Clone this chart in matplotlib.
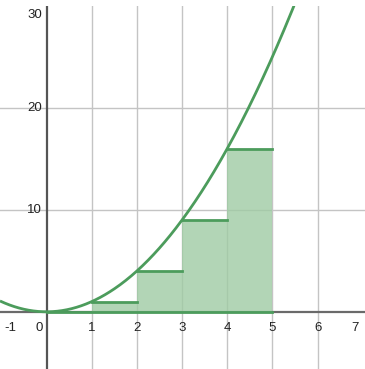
import numpy as np
import matplotlib
matplotlib.use("Agg")
import matplotlib.pyplot as plt

# data
rect_left = [1, 2, 3, 4]
rect_height = [1, 4, 9, 16]
rect_width = 1
x_ticks = [-1, 0, 1, 2, 3, 4, 5, 6, 7]
y_ticks = [10, 20, 30]

plt.rcParams['font.family'] = ['Liberation Sans', 'DejaVu Sans']

W, H = 365, 369
fig = plt.figure(figsize=(W / 100, H / 100), dpi=100)
top_margin = 6
ax = fig.add_axes([0, 0, 1, (H - top_margin) / H])
xmin, xmax = -1.03, 7.05
ymax = 29.98
ymin = ymax - (H - top_margin) / 10.2
ax.set_xlim(xmin, xmax)
ax.set_ylim(ymin, ymax)
for s in ax.spines.values():
    s.set_visible(False)
ax.set_xticks([])
ax.set_yticks([])

grid_c = '#c4c4c4'
for xv in x_ticks:
    if xv not in (0, -1, 7):
        ax.axvline(xv, color=grid_c, lw=1, zorder=1)
for yv in y_ticks:
    if yv < ymax:
        ax.axhline(yv, color=grid_c, lw=1, zorder=1)
ax.axhline(0, color='#6a6a6a', lw=1.6, zorder=2)
ax.axvline(0, color='#555555', lw=1.6, zorder=2)

green = '#4c9c5c'
fill = '#9fcba4'
ax.bar(rect_left, rect_height, width=rect_width, align='edge',
       color=fill, alpha=0.8, edgecolor='none', zorder=3)
for l, h in zip(rect_left, rect_height):
    ax.plot([l, l + rect_width], [h, h], color=green, lw=2, zorder=4)
ax.plot([0, rect_left[-1] + rect_width], [0, 0], color=green, lw=2, zorder=4)

xs = np.linspace(xmin, 6, 400)
ax.plot(xs, xs ** 2, color=green, lw=2, zorder=5, solid_capstyle='butt')

# tick labels
fs = 9.5
tc = '#222222'
for xv in x_ticks:
    if xv == 0:
        ax.text(xv - 0.08, -1.0, '0', ha='right', va='top', fontsize=fs, color=tc)
    elif xv == -1:
        ax.text(-0.8, -1.0, '-1', ha='center', va='top', fontsize=fs, color=tc)
    elif xv == 7:
        ax.text(6.83, -1.0, '7', ha='center', va='top', fontsize=fs, color=tc)
    else:
        ax.text(xv, -1.0, str(xv), ha='center', va='top', fontsize=fs, color=tc)
for yv in y_ticks:
    yy = yv if yv != 30 else 29.1
    ax.text(-0.1, yy, str(yv), ha='right', va='center', fontsize=fs, color=tc)

fig.savefig('out.png', dpi=100)
